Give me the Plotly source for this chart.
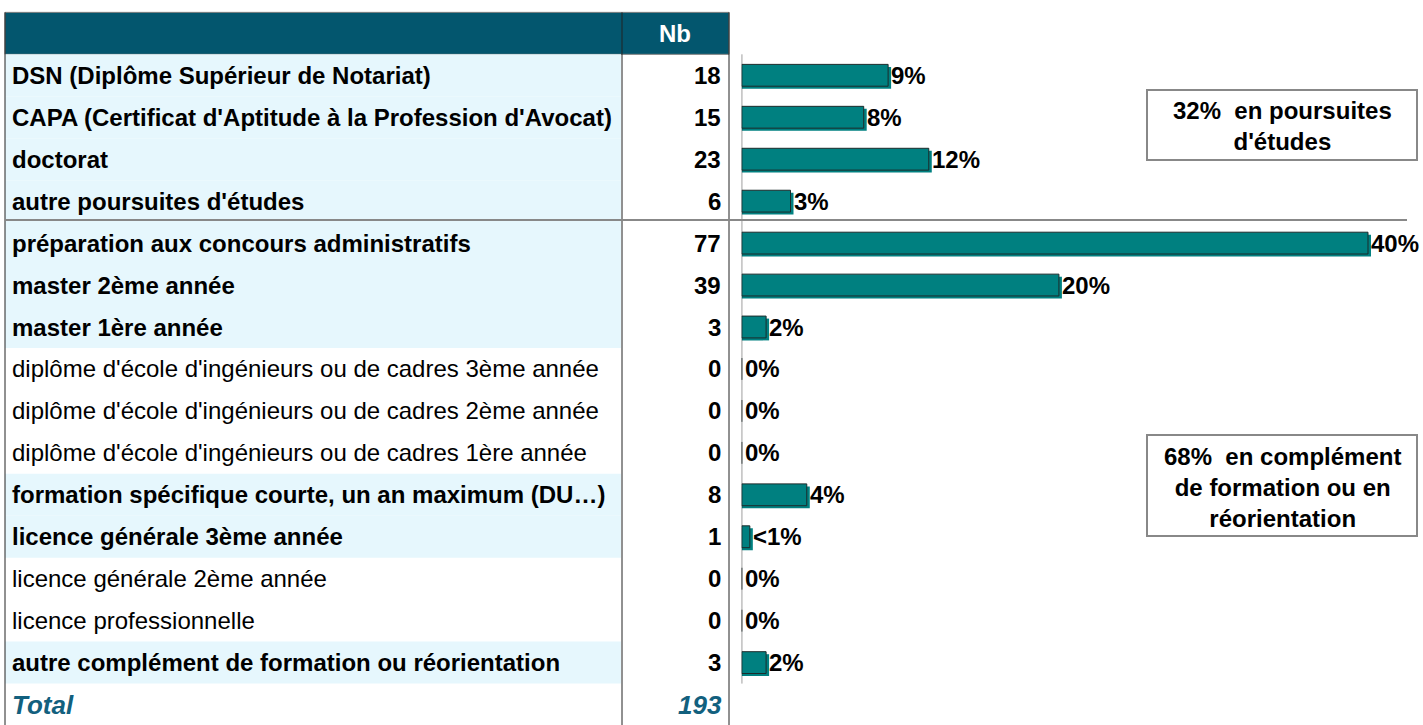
import plotly.graph_objects as go

labels = [
    "DSN (Diplôme Supérieur de Notariat)",
    "CAPA (Certificat d'Aptitude à la Profession d'Avocat)",
    "doctorat",
    "autre poursuites d'études",
    "préparation aux concours administratifs",
    "master 2ème année",
    "master 1ère année",
    "diplôme d'école d'ingénieurs ou de cadres 3ème année",
    "diplôme d'école d'ingénieurs ou de cadres 2ème année",
    "diplôme d'école d'ingénieurs ou de cadres 1ère année",
    "formation spécifique courte, un an maximum (DU…)",
    "licence générale 3ème année",
    "licence générale 2ème année",
    "licence professionnelle",
    "autre complément de formation ou réorientation",
]
counts = [18, 15, 23, 6, 77, 39, 3, 0, 0, 0, 8, 1, 0, 0, 3]
highlighted = [True, True, True, True, True, True, True,
               False, False, False, True, True, False, False, True]
n_poursuites = 4  # first rows = poursuites d'études

W, H = 1423, 725
FONT = "Liberation Sans"
TEAL = "#008080"
HEADER = "#03566e"
LIGHT = "#e6f7fd"
TOTAL_COL = "#12607e"
FS = 24

total = sum(counts)
pct = [c / total for c in counts]
pct_txt = ["<1%" if 0 < p < 0.01 else f"{round(p * 100):.0f}%" for p in pct]
rows = list(range(len(labels)))

# pixel geometry -> axis ranges
row_h, row0 = 41.95, 75.3
x0_px, px_per_unit = 741.7, 1569.8
yrange = [(H - row0) / row_h, -row0 / row_h]
xrange = [0, (W - x0_px) / px_per_unit]


def px(x):
    return x / W


fig = go.Figure()

# bar shadow
fig.add_trace(go.Bar(
    x=[p + 3 / px_per_unit if p > 0 else 0 for p in pct], y=rows,
    orientation="h", width=0.52, offset=-0.26 + 2.5 / row_h,
    marker=dict(color=TEAL, line=dict(width=0)), hoverinfo="skip",
))
fig.add_trace(go.Bar(
    x=pct, y=rows, orientation="h", width=0.52, offset=-0.26,
    marker=dict(color=TEAL, line=dict(color="#1c2b2b", width=1)),
    hovertemplate="%{x:.1%}<extra></extra>",
))

shapes = []
# header
shapes.append(dict(type="rect", xref="paper", yref="y", x0=px(5), x1=px(729),
                   y0=-1.5, y1=-0.5, fillcolor=HEADER, line=dict(color="#808080", width=1),
                   layer="below"))
# highlighted rows
for i, h in enumerate(highlighted):
    if h:
        shapes.append(dict(type="rect", xref="paper", yref="y", x0=px(5), x1=px(621),
                           y0=i - 0.5, y1=i + 0.5, fillcolor=LIGHT, line=dict(width=0),
                           layer="below"))
# table vertical borders
for xv in (5, 622, 729):
    shapes.append(dict(type="line", xref="paper", yref="y", x0=px(xv), x1=px(xv),
                       y0=-1.5, y1=yrange[0], line=dict(color="#222222", width=1)))
# bar axis line
shapes.append(dict(type="line", xref="x", yref="y", x0=0, x1=0, y0=-0.5, y1=len(labels) - 0.5,
                   line=dict(color="#222222", width=1)))
# separator between groups
shapes.append(dict(type="line", xref="paper", yref="y", x0=px(5), x1=px(1407),
                   y0=n_poursuites - 0.55, y1=n_poursuites - 0.55,
                   line=dict(color="#888888", width=2)))
# summary boxes
shapes.append(dict(type="rect", xref="paper", yref="paper", x0=px(1147), x1=px(1417),
                   y0=1 - 160 / H, y1=1 - 90 / H, line=dict(color="#888888", width=2),
                   fillcolor="white"))
shapes.append(dict(type="rect", xref="paper", yref="paper", x0=px(1147), x1=px(1417),
                   y0=1 - 536 / H, y1=1 - 435 / H, line=dict(color="#888888", width=2),
                   fillcolor="white"))

ann = []
bold = dict(family=FONT, size=FS, color="black", weight="bold")
normal = dict(family=FONT, size=FS, color="black")
for i, (lab, c, h) in enumerate(zip(labels, counts, highlighted)):
    ann.append(dict(x=px(10), y=i, xref="paper", yref="y", text=lab, showarrow=False,
                    xanchor="left", yanchor="middle", font=bold if h else normal))
    ann.append(dict(x=px(723), y=i, xref="paper", yref="y", text=str(c), showarrow=False,
                    xanchor="right", yanchor="middle", font=bold))
    ann.append(dict(x=pct[i], y=i, xref="x", yref="y", text=pct_txt[i], showarrow=False,
                    xanchor="left", yanchor="middle", xshift=1, font=bold))
ann.append(dict(x=px(675), y=-1, xref="paper", yref="y", text="Nb", showarrow=False,
                xanchor="center", yanchor="middle",
                font=dict(family=FONT, size=FS, color="white", weight="bold")))
tot_font = dict(family=FONT, size=26, color=TOTAL_COL, weight="bold", style="italic")
ann.append(dict(x=px(10), y=len(labels), xref="paper", yref="y", text="Total",
                showarrow=False, xanchor="left", yanchor="middle", font=tot_font))
ann.append(dict(x=px(724), y=len(labels), xref="paper", yref="y", text=str(total),
                showarrow=False, xanchor="right", yanchor="middle", font=tot_font))

share_a = round(100 * sum(counts[:n_poursuites]) / total)
share_b = round(100 * sum(counts[n_poursuites:]) / total)
ann.append(dict(x=px(1282), y=1 - 126 / H, xref="paper", yref="paper",
                text=f"{share_a}%  en poursuites<br>d'études", showarrow=False,
                xanchor="center", yanchor="middle", align="center", font=bold))
ann.append(dict(x=px(1282), y=1 - 487 / H, xref="paper", yref="paper",
                text=f"{share_b}%  en complément<br>de formation ou en<br>réorientation",
                showarrow=False, xanchor="center", yanchor="middle", align="center",
                font=bold))

fig.update_layout(
    width=W, height=H, margin=dict(l=0, r=0, t=0, b=0),
    paper_bgcolor="white", plot_bgcolor="rgba(0,0,0,0)",
    showlegend=False, barmode="overlay",
    shapes=shapes, annotations=ann,
    xaxis=dict(domain=[x0_px / W, 1], range=xrange, visible=False, fixedrange=True),
    yaxis=dict(domain=[0, 1], range=yrange, visible=False, fixedrange=True),
)

fig.write_html("out.html", config={"displayModeBar": False},
               post_script="document.body.style.margin='0';")
